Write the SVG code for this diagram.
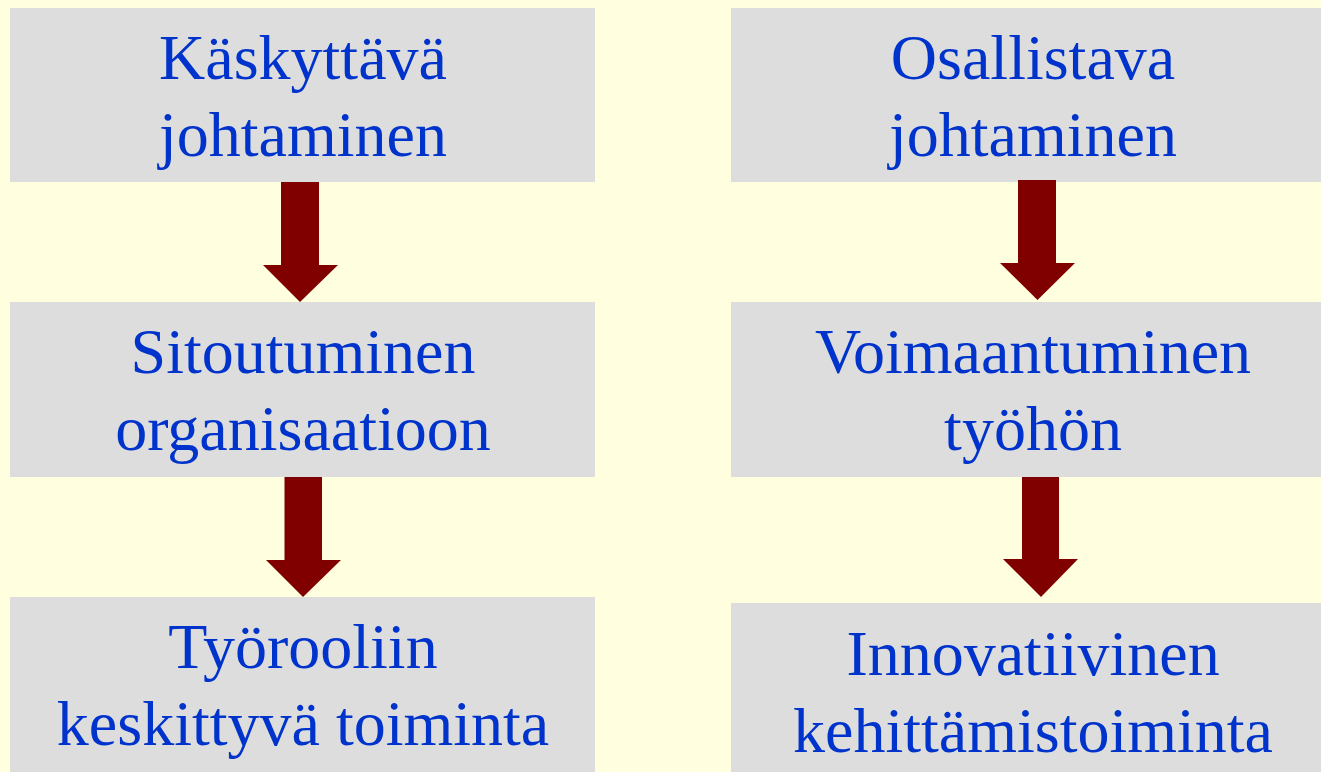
<svg xmlns="http://www.w3.org/2000/svg" width="1321" height="772" viewBox="0 0 1321 772">
<style>
.box{fill:#DDDDDD}
.lbl{font-family:"Liberation Serif","Times New Roman",serif;font-size:64px;fill:#0033CC;text-anchor:middle}
.arr{fill:#800000}
</style>
<rect x="0" y="0" width="1321" height="772" fill="#FFFFDF"/>
<g id="n1"><rect class="box" x="10" y="8" width="585" height="174"/><text class="lbl" x="303" y="79">Käskyttävä</text><text class="lbl" x="303" y="156">johtaminen</text></g>
<g id="n2"><rect class="box" x="10" y="302" width="585" height="175"/><text class="lbl" x="303" y="373">Sitoutuminen</text><text class="lbl" x="303" y="450">organisaatioon</text></g>
<g id="n3"><rect class="box" x="10" y="597" width="585" height="175"/><text class="lbl" x="303" y="668">Työrooliin</text><text class="lbl" x="303" y="745">keskittyvä toiminta</text></g>
<g id="n4"><rect class="box" x="731" y="8" width="604" height="174"/><text class="lbl" x="1033" y="79">Osallistava</text><text class="lbl" x="1033" y="156">johtaminen</text></g>
<g id="n5"><rect class="box" x="731" y="302" width="604" height="175"/><text class="lbl" x="1033" y="373">Voimaantuminen</text><text class="lbl" x="1033" y="450">työhön</text></g>
<g id="n6"><rect class="box" x="731" y="603" width="604" height="175"/><text class="lbl" x="1033" y="675">Innovatiivinen</text><text class="lbl" x="1033" y="752">kehittämistoiminta</text></g>
<g id="connectors">
<polygon class="arr" points="281,182 319,182 319,265 338,265 300,302 263,265 281,265"/>
<polygon class="arr" points="284.5,477 322,477 322,560 341,560 303,597 266,560 284.5,560"/>
<polygon class="arr" points="1018,180 1056,180 1056,263 1075,263 1037.5,300 1000,263 1018,263"/>
<polygon class="arr" points="1022,477 1059,477 1059,559 1078,559 1041,597 1003,559 1022,559"/>
</g>
</svg>
